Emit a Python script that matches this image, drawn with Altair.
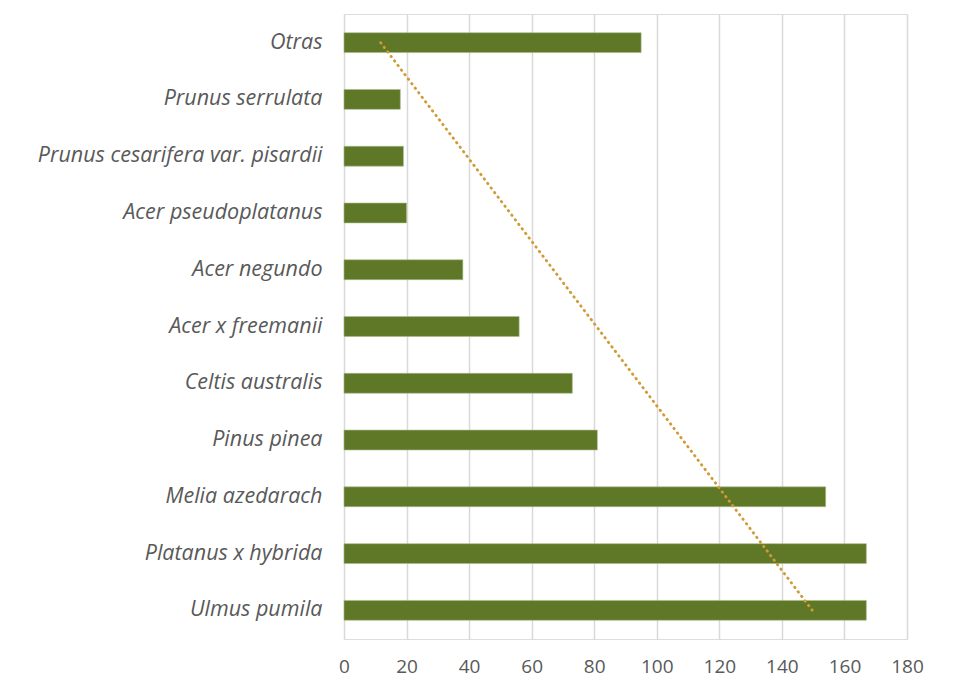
import altair as alt
import pandas as pd
import numpy as np

# Categories in Excel order (bottom to top)
species = ["Ulmus pumila", "Platanus x hybrida", "Melia azedarach", "Pinus pinea",
           "Celtis australis", "Acer x freemanii", "Acer negundo", "Acer pseudoplatanus",
           "Prunus cesarifera var. pisardii", "Prunus serrulata", "Otras"]
counts = [167, 167, 154, 81, 73, 56, 38, 20, 19, 18, 95]

df = pd.DataFrame({"especie": species, "n": counts, "idx": np.arange(1, len(species) + 1)})

# Linear trendline (least squares on category index), as Excel does
slope, intercept = np.polyfit(df["idx"], df["n"], 1)
trend = pd.DataFrame({
    "especie": [species[0], species[-1]],
    "n": [intercept + slope * 1, intercept + slope * len(species)],
})

order_top_down = species[::-1]
font = "Open Sans"

yenc = alt.Y("especie:N", sort=order_top_down,
             scale=alt.Scale(paddingInner=0.65, paddingOuter=0.33),
             axis=alt.Axis(title=None, labelFontStyle="italic", labelFontSize=21.5,
                           labelFont=font, labelColor="#595959", labelPadding=22,
                           ticks=False, domain=False, grid=False,
                           minExtent=336, maxExtent=336, labelLimit=400))
xenc = alt.X("n:Q", scale=alt.Scale(domain=[0, 180], nice=False),
             axis=alt.Axis(title=None, values=list(range(0, 181, 20)), labelFontSize=19,
                           labelFont=font, labelColor="#595959", labelPadding=18,
                           labelFlush=False, labelOverlap=False,
                           ticks=False, domain=False, grid=True, gridColor="#d9d9d9",
                           gridWidth=1.5))

bars = alt.Chart(df).mark_bar(color="#5E7828", stroke="#A9BB8A", strokeWidth=0.6).encode(
    x=xenc, y=yenc)

line = alt.Chart(trend).mark_line(color="#D09B35", strokeWidth=2.8,
                                  strokeDash=[0.5, 5.2], strokeCap="round").encode(
    x=alt.X("n:Q"), y=alt.Y("especie:N", sort=order_top_down))

chart = alt.layer(bars, line).properties(width=563, height=625).configure_view(
    stroke=None).configure(background="white", padding={"left": 0, "top": 6, "right": 0, "bottom": 8})

chart.save("out.html", embed_options={"renderer": "svg", "actions": False})
